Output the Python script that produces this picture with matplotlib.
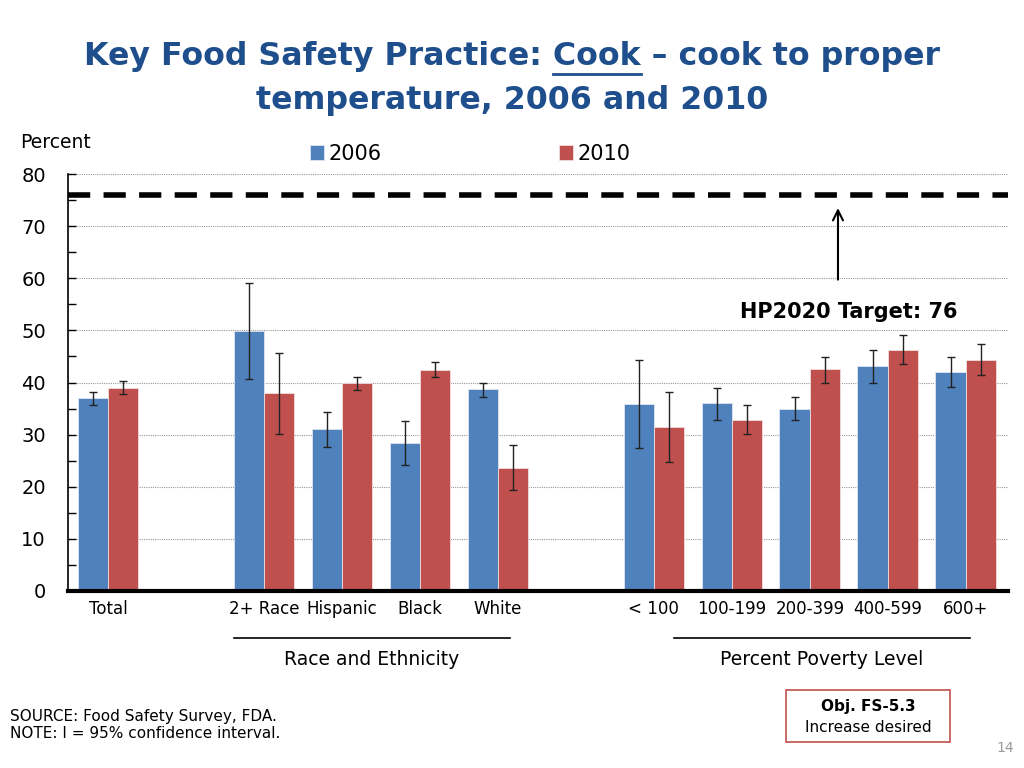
import matplotlib.pyplot as plt
from matplotlib.patches import Rectangle
from matplotlib.lines import Line2D

# data
categories = ['Total', '2+ Race', 'Hispanic', 'Black', 'White',
              '< 100', '100-199', '200-399', '400-599', '600+']
group_sizes = [1, 4, 5]
group_names = ['', 'Race and Ethnicity', 'Percent Poverty Level']
v2006 = [37.0, 49.9, 31.1, 28.4, 38.8, 35.9, 36.1, 34.9, 43.1, 42.0]
lo2006 = [35.7, 40.7, 27.6, 24.2, 37.2, 27.4, 32.9, 32.9, 40.0, 39.2]
hi2006 = [38.2, 59.1, 34.3, 32.6, 39.9, 44.4, 39.0, 37.3, 46.2, 44.9]
v2010 = [38.9, 38.0, 39.9, 42.4, 23.6, 31.4, 32.9, 42.5, 46.2, 44.4]
lo2010 = [37.8, 30.1, 38.6, 41.1, 19.4, 24.8, 30.2, 40.0, 43.5, 41.4]
hi2010 = [40.3, 45.7, 41.1, 43.9, 28.0, 38.1, 35.7, 44.9, 49.1, 47.4]
target = 76

blue = '#4F81BD'
red = '#C0504D'
navy = '#1F4E8C'

# x positions: one empty slot between groups
pos = []
x = 0
for n in group_sizes:
    for i in range(n):
        pos.append(x)
        x += 1
    x += 1

fig = plt.figure(figsize=(10.24, 7.68), dpi=100)
ax = fig.add_axes([68/1024, (768-591)/768, 940/1024, 417/768])

bw = 0.39
p1 = [p - bw/2 for p in pos]
p2 = [p + bw/2 for p in pos]
err1 = [[v - l for v, l in zip(v2006, lo2006)], [h - v for v, h in zip(v2006, hi2006)]]
err2 = [[v - l for v, l in zip(v2010, lo2010)], [h - v for v, h in zip(v2010, hi2010)]]
ax.bar(p1, v2006, width=bw, color=blue, edgecolor='#dfe6f0', linewidth=0.6, label='2006', zorder=2)
ax.bar(p2, v2010, width=bw, color=red, edgecolor='#f0dede', linewidth=0.6, label='2010', zorder=2)
ax.errorbar(p1, v2006, yerr=err1, fmt='none', ecolor='#222222', elinewidth=1, capsize=3, capthick=1, zorder=3)
ax.errorbar(p2, v2010, yerr=err2, fmt='none', ecolor='#222222', elinewidth=1, capsize=3, capthick=1, zorder=3)

ax.axhline(target, color='black', lw=4, dashes=(4, 2.4), zorder=4)

ax.set_xlim(-0.513, 11.54)
ax.set_ylim(0, 80)
ax.set_yticks(range(0, 81, 10))
ax.set_yticks(range(5, 80, 10), minor=True)
ax.tick_params(axis='y', which='both', direction='in', length=6, width=1, labelsize=14, pad=16)
ax.set_xticks([])
ax.grid(axis='y', linestyle=(0, (1, 1)), color='#999999', linewidth=0.8, zorder=0)
for s in ['top', 'right']:
    ax.spines[s].set_visible(False)
ax.spines['left'].set_linewidth(1.2)
ax.spines['bottom'].set_linewidth(3)
ax.spines['bottom'].set_zorder(5)

trans = ax.get_xaxis_transform()
for p, c in zip(pos, categories):
    ax.text(p, -0.043, c, transform=trans, ha='center', va='center', fontsize=12)

# group labels with rules above them
spans = [None, (1.62, 5.15), (7.26, 11.05)]
for name, sp in zip(group_names, spans):
    if sp is None:
        continue
    ax.add_line(Line2D(sp, [-0.113, -0.113], transform=trans, color='black', lw=1.2, clip_on=False))
    ax.text((sp[0] + sp[1]) / 2, -0.165, name, transform=trans, ha='center', va='center', fontsize=13.5)

# target annotation
ax.annotate('', xy=(9.36, 74.0), xytext=(9.36, 59.2),
            arrowprops=dict(arrowstyle='->', color='black', lw=1.5, mutation_scale=18))
ax.text(9.5, 53.5, 'HP2020 Target: 76', ha='center', va='center', fontsize=15, fontweight='bold')

fig.legend(loc='center', bbox_to_anchor=(470/1024, 1 - 154/768), ncol=2, frameon=False,
           fontsize=15, handlelength=0.7, handleheight=0.7, handletextpad=0.2, columnspacing=8.5)

fig.text(20/1024, 1 - 142/768, 'Percent', fontsize=13.5, va='center')

# title with underlined "Cook"
line1a = 'Key Food Safety Practice: '
line1b = 'Cook'
line1c = ' \u2013 cook to proper'
tkw = dict(fontsize=22.8, fontweight='bold', color=navy, va='center')
full = fig.text(0.5, 1 - 57/768, line1a + line1b + line1c, ha='center', **tkw)
fig.text(0.5, 1 - 100/768, 'temperature, 2006 and 2010', ha='center', **tkw)
r = fig.canvas.get_renderer()
fb = full.get_window_extent(r)
ta = fig.text(0, 0, line1a, **tkw)
tb = fig.text(0, 0, line1b, **tkw)
wa = ta.get_window_extent(r).width
wb = tb.get_window_extent(r).width
ta.remove()
tb.remove()
x0 = (fb.x0 + wa) / 1024
x1 = (fb.x0 + wa + wb) / 1024
fig.add_artist(Line2D([x0, x1], [1 - 74/768, 1 - 74/768], color=navy, lw=2))

# footnotes
fig.text(10/1024, 1 - 717/768, 'SOURCE: Food Safety Survey, FDA.', fontsize=11, va='center')
fig.text(10/1024, 1 - 734/768, 'NOTE: I = 95% confidence interval.', fontsize=11, va='center')
fig.add_artist(Rectangle((786/1024, 1 - 742/768), 164/1024, 52/768, transform=fig.transFigure,
                         facecolor='white', edgecolor=red, lw=1.2))
fig.text(868/1024, 1 - 707/768, 'Obj. FS-5.3', fontsize=11, fontweight='bold', ha='center', va='center')
fig.text(868/1024, 1 - 728/768, 'Increase desired', fontsize=11, ha='center', va='center')
fig.text(1005/1024, 1 - 748/768, '14', fontsize=10, color='#999999', ha='center', va='center')

fig.savefig('out.png', dpi=100)
